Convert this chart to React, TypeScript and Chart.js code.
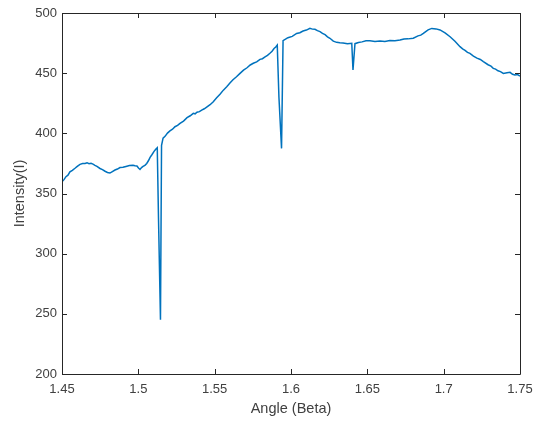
import React, { useEffect, useRef } from "react";
import { Chart, registerables } from "chart.js";

Chart.register(...registerables);

const angles: number[] = [
  1.4500, 1.4513, 1.4526, 1.4539, 1.4552, 1.4568, 1.4585, 1.4600, 1.4618, 1.4635,
  1.4651, 1.4664, 1.4677, 1.4690, 1.4703, 1.4716, 1.4729, 1.4749, 1.4765, 1.4782,
  1.4798, 1.4814, 1.4830, 1.4847, 1.4863, 1.4880, 1.4899, 1.4919, 1.4942, 1.4965,
  1.4978, 1.4991, 1.5001, 1.5011, 1.5021, 1.5031, 1.5043, 1.5055, 1.5066, 1.5077,
  1.5090, 1.5103, 1.5114, 1.5124, 1.5132, 1.5145, 1.5152, 1.5162, 1.5175, 1.5191,
  1.5207, 1.5224, 1.5240, 1.5257, 1.5273, 1.5296, 1.5319, 1.5340, 1.5360, 1.5372,
  1.5384, 1.5400, 1.5415, 1.5432, 1.5450, 1.5470, 1.5491, 1.5513, 1.5535, 1.5557,
  1.5579, 1.5600, 1.5620, 1.5643, 1.5666, 1.5689, 1.5712, 1.5733, 1.5753, 1.5775,
  1.5797, 1.5813, 1.5830, 1.5846, 1.5862, 1.5876, 1.5889, 1.5900, 1.5910, 1.5921,
  1.5938, 1.5948, 1.5964, 1.5980, 1.6008, 1.6037, 1.6058, 1.6079, 1.6101, 1.6124,
  1.6140, 1.6157, 1.6173, 1.6190, 1.6206, 1.6223, 1.6239, 1.6255, 1.6277, 1.6299,
  1.6320, 1.6341, 1.6370, 1.6398, 1.6406, 1.6419, 1.6442, 1.6465, 1.6491, 1.6517,
  1.6550, 1.6583, 1.6615, 1.6648, 1.6681, 1.6714, 1.6740, 1.6766, 1.6801, 1.6832,
  1.6850, 1.6867, 1.6898, 1.6922, 1.6950, 1.6976, 1.7009, 1.7042, 1.7074, 1.7107,
  1.7124, 1.7140, 1.7156, 1.7172, 1.7195, 1.7218, 1.7240, 1.7260, 1.7291, 1.7310,
  1.7325, 1.7340, 1.7356, 1.7372, 1.7391, 1.7415, 1.7435, 1.7451, 1.7467, 1.7484,
  1.7500,
];

const intensities: number[] = [
  359.7, 361.5, 364.0, 365.2, 368.0, 369.3, 371.0, 372.6, 374.2, 374.9,
  375.0, 375.6, 374.8, 375.1, 374.4, 373.4, 372.5, 370.8, 369.9, 368.5,
  367.5, 367.0, 368.2, 369.5, 370.3, 371.6, 371.9, 372.5, 373.2, 373.5,
  373.0, 372.8, 371.2, 370.0, 371.5, 372.5, 373.4, 375.0, 377.2, 380.0,
  382.4, 385.0, 386.8, 388.0, 330.0, 245.0, 390.0, 396.0, 397.5, 400.2,
  402.0, 403.4, 405.5, 406.6, 408.3, 410.2, 413.0, 414.6, 416.6, 416.2,
  417.5, 418.0, 419.3, 420.4, 422.0, 423.8, 426.2, 429.6, 432.5, 435.9,
  438.7, 441.8, 444.5, 447.0, 449.8, 452.5, 454.5, 456.8, 458.2, 459.4,
  461.5, 462.0, 463.5, 464.8, 466.5, 468.2, 470.5, 471.8, 473.4, 430.0,
  387.5, 477.0, 478.2, 479.5, 480.6, 483.0, 483.6, 485.0, 485.8, 487.2,
  486.6, 486.5, 485.3, 484.5, 483.0, 482.0, 480.2, 479.0, 476.6, 475.6,
  475.2, 475.0, 474.4, 474.8, 452.6, 474.5, 475.4, 476.0, 476.9, 477.0,
  476.4, 476.8, 476.3, 477.2, 477.0, 477.5, 478.3, 478.5, 479.0, 481.0,
  481.6, 483.0, 486.0, 487.2, 486.8, 485.9, 483.5, 480.3, 476.5, 472.0,
  470.2, 469.0, 467.3, 466.5, 464.2, 462.5, 461.4, 459.6, 457.0, 455.8,
  454.0, 453.4, 452.0, 451.3, 449.8, 450.3, 450.7, 449.1, 448.5, 448.8,
  447.6,
];

const xTickValues: number[] = [1.45, 1.5, 1.55, 1.6, 1.65, 1.7, 1.75];
const yTickValues: number[] = [200, 250, 300, 350, 400, 450, 500];

const AXIS_COLOR = "#262626";
const LABEL_COLOR = "#404040";

const boxPlugin = {
  id: "matlabBox",
  afterDraw(chart: any) {
    const { ctx, chartArea, scales } = chart;
    const { left, right, top, bottom } = chartArea;
    ctx.save();
    ctx.strokeStyle = AXIS_COLOR;
    ctx.lineWidth = 1;
    ctx.beginPath();
    ctx.rect(Math.round(left) + 0.5, Math.round(top) + 0.5, Math.round(right - left), Math.round(bottom - top));
    ctx.stroke();
    const len = 5;
    ctx.beginPath();
    for (const v of xTickValues) {
      const px = Math.round(scales.x.getPixelForValue(v)) + 0.5;
      ctx.moveTo(px, bottom);
      ctx.lineTo(px, bottom - len);
      ctx.moveTo(px, top);
      ctx.lineTo(px, top + len);
    }
    for (const v of yTickValues) {
      const py = Math.round(scales.y.getPixelForValue(v)) + 0.5;
      ctx.moveTo(left, py);
      ctx.lineTo(left + len, py);
      ctx.moveTo(right, py);
      ctx.lineTo(right - len, py);
    }
    ctx.stroke();
    ctx.restore();
  },
};

const bgPlugin = {
  id: "whiteBg",
  beforeDraw(chart: any) {
    const { ctx, width, height } = chart;
    ctx.save();
    ctx.fillStyle = "#ffffff";
    ctx.fillRect(0, 0, width, height);
    ctx.restore();
  },
};

export default function App() {
  const canvasRef = useRef<HTMLCanvasElement | null>(null);

  useEffect(() => {
    if (!canvasRef.current) return;
    const data = angles.map((a, i) => ({ x: a, y: intensities[i] }));
    const chart = new Chart(canvasRef.current, {
      type: "line",
      data: {
        datasets: [
          {
            data,
            borderColor: "#0072BD",
            borderWidth: 1.5,
            pointRadius: 0,
            tension: 0,
            fill: false,
          },
        ],
      },
      options: {
        animation: false,
        responsive: false,
        events: [],
        layout: { padding: { top: 13, right: 13, left: 0, bottom: 0 } },
        plugins: { legend: { display: false }, tooltip: { enabled: false } },
        scales: {
          x: {
            type: "linear",
            min: 1.45,
            max: 1.75,
            afterFit: (s: any) => { s.height = 47; s.paddingRight = 0; s.paddingLeft = 0; },
            afterBuildTicks: (s: any) => { s.ticks = xTickValues.map((v) => ({ value: v })); },
            grid: { display: false, drawTicks: false },
            border: { display: false },
            ticks: {
              padding: 8,
              maxRotation: 0,
              autoSkip: false,
              color: LABEL_COLOR,
              font: { family: "'Liberation Sans', Arial, sans-serif", size: 13 },
              callback: (v: any) => String(Number(Number(v).toFixed(2))),
            },
            title: {
              display: true,
              text: "Angle (Beta)",
              color: LABEL_COLOR,
              font: { family: "'Liberation Sans', Arial, sans-serif", size: 14.5 },
              padding: { top: 0, bottom: 3 },
            },
          },
          y: {
            type: "linear",
            min: 200,
            max: 500,
            afterFit: (s: any) => { s.width = 62; s.paddingTop = 0; s.paddingBottom = 0; },
            afterBuildTicks: (s: any) => { s.ticks = yTickValues.map((v) => ({ value: v })); },
            grid: { display: false, drawTicks: false },
            border: { display: false },
            ticks: {
              padding: 5,
              autoSkip: false,
              color: LABEL_COLOR,
              font: { family: "'Liberation Sans', Arial, sans-serif", size: 13 },
              callback: (v: any) => String(v),
            },
            title: {
              display: true,
              text: "Intensity(I)",
              color: LABEL_COLOR,
              font: { family: "'Liberation Sans', Arial, sans-serif", size: 14.5 },
              padding: { top: 11, bottom: 0 },
            },
          },
        },
      },
      plugins: [bgPlugin, boxPlugin],
    });
    return () => chart.destroy();
  }, []);

  return (
    <div style={{ position: "absolute", left: 0, top: 0, width: 533, height: 421, background: "#fff" }}>
      <canvas ref={canvasRef} width={533} height={421} style={{ display: "block" }} />
    </div>
  );
}
